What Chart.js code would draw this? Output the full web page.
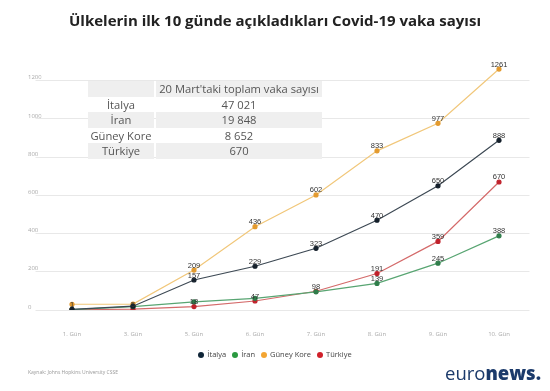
<!DOCTYPE html>
<html><head><meta charset="utf-8">
<script src="https://cdn.jsdelivr.net/npm/chart.js@4/dist/chart.umd.min.js"></script>
<style>
html,body{margin:0;padding:0;background:#fff;width:550px;height:391px;overflow:hidden;font-family:"Open Sans",sans-serif;}
#wrap{position:relative;width:550px;height:391px;}
#c{position:absolute;left:0;top:0;}
#title{position:absolute;left:0;top:10px;width:550px;text-align:center;font-weight:700;font-size:15px;color:#222;line-height:20px;}
#tbl{position:absolute;left:88px;top:81px;width:234px;font-size:11.2px;color:#555;}
.row{display:flex;height:15.6px;line-height:15.6px;}
.c1{width:66px;text-align:center;margin-right:2px;white-space:nowrap;}
.c2{flex:1;text-align:center;white-space:nowrap;}
.g .c1,.g .c2{background:#efefef;}
#legend{position:absolute;left:0;top:347px;width:550px;text-align:center;font-size:7.5px;color:#444;line-height:14px;}
#legend span.it{margin:0 3px;white-space:nowrap;}
#legend i{display:inline-block;width:6px;height:6px;border-radius:50%;margin-right:3px;vertical-align:-0.5px;}
#src{position:absolute;left:28px;top:369px;font-size:5px;color:#999;}
#logo{position:absolute;left:445px;top:362px;font-size:18.5px;color:#1b3a6b;line-height:22px;white-space:nowrap;}
#logo .l{font-weight:400;}
#logo .b{font-weight:800;}
</style></head>
<body><div id="wrap">
<canvas id="c" width="550" height="391"></canvas>
<div id="title">Ülkelerin ilk 10 günde açıkladıkları Covid-19 vaka sayısı</div>
<div id="tbl"></div>
<div id="legend"></div>
<div id="src">Kaynak: Johns Hopkins University CSSE</div>
<div id="logo"><span class="l">euro</span><span class="b">news.</span></div>
</div>
<script>
const days = ["1. Gün","3. Gün","5. Gün","6. Gün","7. Gün","8. Gün","9. Gün","10. Gün"];
const italya = [3, 20, 157, 229, 323, 470, 650, 888];
const iran = [2, 18, 43, 61, 95, 139, 245, 388];
const guneyKore = [30, 31, 209, 436, 602, 833, 977, 1261];
const turkiye = [1, 5, 18, 47, 98, 191, 359, 670];
const tableHeader = "20 Mart'taki toplam vaka sayısı";
const tableCountries = ["İtalya","İran","Güney Kore","Türkiye"];
const tableTotals = ["47 021","19 848","8 652","670"];

const tbl = document.getElementById('tbl');
let html = '<div class="row g"><div class="c1"></div><div class="c2">'+tableHeader+'</div></div>';
tableCountries.forEach((n,i)=>{
  html += '<div class="row'+(i%2===1?' g':'')+'"><div class="c1">'+n+'</div><div class="c2">'+tableTotals[i]+'</div></div>';
});
tbl.innerHTML = html;

const series = [
  {label:"İtalya", data:italya, line:"#3d4954", pt:"#15202b", leg:"#0f2537", labelFrom:2},
  {label:"İran", data:iran, line:"#58a572", pt:"#2f7d4a", leg:"#2a9940", labelFrom:5},
  {label:"Güney Kore", data:guneyKore, line:"#f1c77a", pt:"#e39a2e", leg:"#f3a532", labelFrom:2},
  {label:"Türkiye", data:turkiye, line:"#d46a6a", pt:"#c0202a", leg:"#d0202a", labelFrom:0}
];

document.getElementById('legend').innerHTML = series.map(s=>'<span class="it"><i style="background:'+s.leg+'"></i>'+s.label+'</span>').join('');

const valuePlugin = {
  id:'vals',
  afterDatasetsDraw(chart){
    const ctx = chart.ctx;
    ctx.save();
    ctx.font = '7.5px "Liberation Sans", Arial, sans-serif';
    ctx.fillStyle = '#333';
    ctx.textAlign = 'center';
    ctx.textBaseline = 'alphabetic';
    chart.data.datasets.forEach((ds,i)=>{
      const meta = chart.getDatasetMeta(i);
      meta.data.forEach((p,j)=>{
        if (j < ds.labelFrom) return;
        ctx.fillText(String(ds.data[j]), p.x, p.y - 2.5);
      });
    });
    ctx.restore();
  }
};

new Chart(document.getElementById('c'), {
  type:'line',
  data:{
    labels:days,
    datasets: series.map(s=>({
      label:s.label, data:s.data, labelFrom:s.labelFrom,
      borderColor:s.line, backgroundColor:s.pt, pointBackgroundColor:s.pt, pointBorderColor:s.pt,
      borderWidth:1.2, pointRadius:2, pointHoverRadius:2, tension:0, fill:false
    }))
  },
  options:{
    responsive:false, animation:false, devicePixelRatio:1,
    layout:{padding:{left:28, right:20.5, top:61.6, bottom:0}},
    plugins:{legend:{display:false}, title:{display:false}, tooltip:{enabled:false}},
    scales:{
      x:{
        offset:true,
        grid:{display:false, drawTicks:false},
        border:{display:false},
        ticks:{padding:21, font:{size:6, family:'"Open Sans", sans-serif'}, color:'#aaa', maxRotation:0, autoSkip:false},
        afterFit(s){ s.height = 81; }
      },
      y:{
        min:0, max:1300,
        grid:{color:'#e8e8e8', lineWidth:1, tickLength:6},
        border:{display:false},
        ticks:{stepSize:200, crossAlign:'far', labelOffset:-3, padding:0, font:{size:6, family:'"Open Sans", sans-serif'}, color:'#aaa',
          callback:(v)=>String(v)},
        afterBuildTicks(s){ s.ticks = s.ticks.filter(t=>t.value % 200 === 0); },
        afterFit(s){ s.width = 13.5; }
      }
    }
  },
  plugins:[valuePlugin]
});
</script>
</body></html>
